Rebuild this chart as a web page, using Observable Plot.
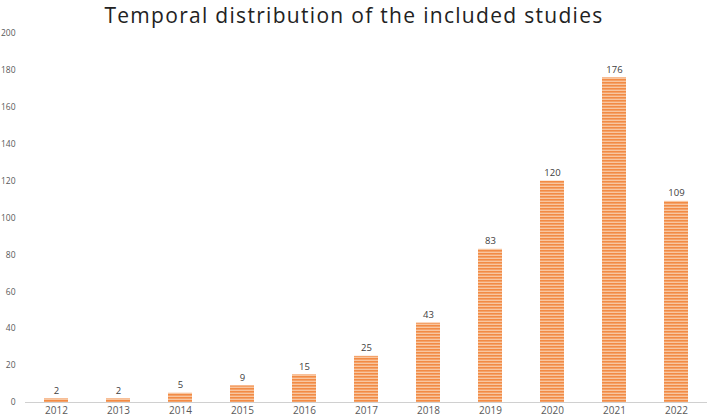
<!DOCTYPE html>
<html><head><meta charset="utf-8">
<script src="https://cdn.jsdelivr.net/npm/d3@7"></script>
<script src="https://cdn.jsdelivr.net/npm/@observablehq/plot@0.6"></script>
<style>
body{margin:0;background:#fff;font-family:"Open Sans",sans-serif;}
#title{height:28px;line-height:30px;text-align:center;font-size:21px;color:#222;letter-spacing:1.3px;font-family:"Open Sans",sans-serif;}
</style></head>
<body>
<div id="title">Temporal distribution of the included studies</div>
<div id="chart"></div>
<script>
const years = ["2012","2013","2014","2015","2016","2017","2018","2019","2020","2021","2022"];
const counts = [2,2,5,9,15,25,43,83,120,176,109];
const yTicks = [0,20,40,60,80,100,120,140,160,180,200];
const data = years.map((y,i)=>({year:y,count:counts[i]}));

const chart = Plot.plot({
  width:708, height:392,
  marginTop:5, marginBottom:18, marginLeft:25, marginRight:1,
  style:{fontFamily:"'Open Sans',sans-serif", fontSize:"9px", color:"#595959", background:"#fff"},
  x:{domain:years, paddingInner:0.62, paddingOuter:0.31, label:null},
  y:{domain:[0,200], label:null},
  marks:[
    Plot.axisY({ticks:yTicks, tickSize:0, tickPadding:10, fontSize:8.5, fill:"#595959"}),
    Plot.axisX({tickSize:0, tickPadding:4, fontSize:10, fill:"#595959"}),
    Plot.barY(data,{x:"year", y:"count", fill:"url(#stripes)"}),
    Plot.ruleY([0],{stroke:"#d0d0d0", strokeWidth:1.2}),
    Plot.text(data,{x:"year", y:"count", text:d=>String(d.count), dy:-8, fontSize:9.5, fill:"#404040"})
  ]
});
const ns="http://www.w3.org/2000/svg";
const defs=document.createElementNS(ns,"defs");
defs.innerHTML=`<pattern id="stripes" patternUnits="userSpaceOnUse" width="8" height="3">
<rect width="8" height="3" fill="#F28B45"/><rect y="1.6" width="8" height="1.4" fill="#F8C6A0"/></pattern>`;
chart.insertBefore(defs, chart.firstChild);
document.getElementById("chart").appendChild(chart);
</script>
</body></html>
